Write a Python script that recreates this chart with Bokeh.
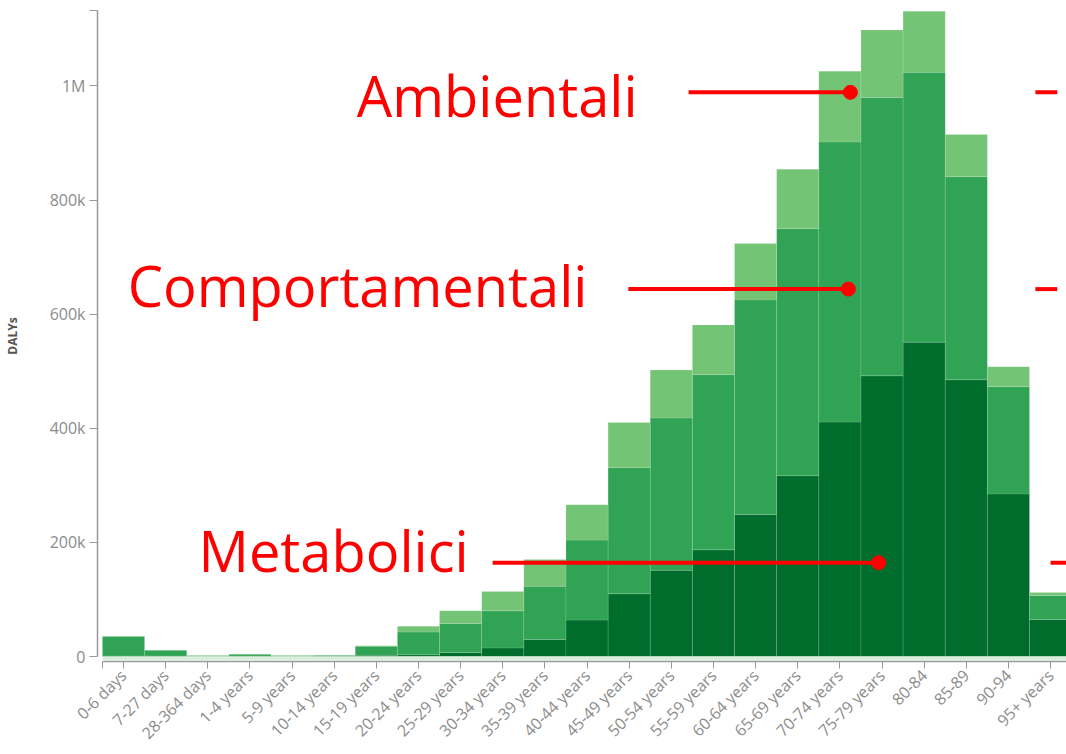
import math
from bokeh.plotting import figure
from bokeh.models import Range1d, FixedTicker, Label, BoxAnnotation, ColumnDataSource
from bokeh.embed import file_html
from bokeh.resources import INLINE

# ---------------- data (DALYs) ----------------
categories = ["0-6 days", "7-27 days", "28-364 days", "1-4 years", "5-9 years",
              "10-14 years", "15-19 years", "20-24 years", "25-29 years", "30-34 years",
              "35-39 years", "40-44 years", "45-49 years", "50-54 years", "55-59 years",
              "60-64 years", "65-69 years", "70-74 years", "75-79 years", "80-84",
              "85-89", "90-94", "95+ years"]

metabolici = [1000, 1000, 500, 1000, 500, 1000, 2000, 3000, 7000, 15000,
              30000, 64000, 110000, 151000, 187000, 249000, 317000, 411000, 492000, 551000,
              485000, 285000, 65000]

comportamentali = [34000, 10000, 1000, 3000, 1000, 1000, 16000, 40000, 51000, 65000,
                   93000, 140000, 221000, 267000, 307000, 376000, 433000, 491000, 488000, 473000,
                   356000, 188000, 42000]

ambientali = [1000, 500, 500, 500, 500, 500, 1000, 10000, 22000, 34000,
              47000, 62000, 79000, 84000, 87000, 99000, 104000, 124000, 118000, 107000,
              74000, 35000, 5000]

series_names = ["Metabolici", "Comportamentali", "Ambientali"]
series_colors = ["#006d2c", "#31a354", "#74c476"]

y_ticks = [0, 200000, 400000, 600000, 800000, 1000000]
y_tick_labels = ["0", "200k", "400k", "600k", "800k", "1M"]

# ---------------- figure ----------------
Y_TOP = 1132300
Y_BOTTOM = -8750
X_START = -0.617
X_END = 22.378

idx = list(range(len(categories)))
source = ColumnDataSource(dict(x=idx, Metabolici=metabolici,
                               Comportamentali=comportamentali, Ambientali=ambientali))

p = figure(width=1066, height=754, output_backend="svg", toolbar_location=None,
           x_range=Range1d(X_START, X_END), y_range=Range1d(Y_BOTTOM, Y_TOP),
           min_border_left=97, min_border_right=0, min_border_top=10, min_border_bottom=92)
p.outline_line_color = None
p.grid.visible = False
p.background_fill_color = "white"

# light band between bars and axis
p.add_layout(BoxAnnotation(left=-0.5, right=len(categories) - 0.5, top=0, bottom=-7000,
                           fill_color="#d7f0dc", fill_alpha=1.0, line_color=None))

p.vbar_stack(series_names, x="x", width=1.0, source=source,
             fill_color=series_colors, line_color="white", line_alpha=0.12, line_width=1)

# ---------------- axes ----------------
tick_color = "#8c8c8c"
axis_color = "#999999"

xa = p.xaxis[0]
xa.ticker = FixedTicker(ticks=[-0.5] + idx)
overrides = {i: c for i, c in enumerate(categories)}
overrides[-0.5] = ""
xa.major_label_overrides = overrides
xa.major_label_orientation = math.pi / 4
xa.bounds = (-0.5, len(categories) - 0.5)
xa.axis_line_color = axis_color
xa.axis_line_width = 1.5
xa.major_tick_line_color = axis_color
xa.major_tick_out = 7
xa.major_tick_in = 0
xa.minor_tick_line_color = None
xa.major_label_text_font = "Open Sans"
xa.major_label_text_font_size = "16px"
xa.major_label_text_color = tick_color
xa.major_label_standoff = 4

ya = p.yaxis[0]
ya.ticker = FixedTicker(ticks=y_ticks + [Y_TOP])
yover = {t: l for t, l in zip(y_ticks, y_tick_labels)}
yover[Y_TOP] = ""
ya.major_label_overrides = yover
ya.bounds = (0, Y_TOP)
ya.axis_line_color = axis_color
ya.axis_line_width = 1.5
ya.major_tick_line_color = axis_color
ya.major_tick_out = 8
ya.major_tick_in = 0
ya.minor_tick_line_color = None
ya.major_label_text_font = "Open Sans"
ya.major_label_text_font_size = "16px"
ya.major_label_text_color = tick_color
ya.major_label_standoff = 4
ya.axis_label = "DALYs"
ya.axis_label_text_font = "Open Sans"
ya.axis_label_text_font_style = "bold"
ya.axis_label_text_font_size = "12px"
ya.axis_label_text_color = "#555555"
ya.axis_label_standoff = 26

# ---------------- callout annotations ----------------
RED = "#ff0000"
callouts = [
    # text, text right x, text anchor y, line y, line x0, line x1
    ("Ambientali", 12.20, 983500, 988800, 13.41, 17.25),
    ("Comportamentali", 11.01, 651000, 644000, 11.98, 17.20),
    ("Metabolici", 8.19, 187250, 164500, 8.76, 17.92),
]
for text, tx, ty, ly, lx0, lx1 in callouts:
    p.add_layout(Label(x=tx, y=ty, text=text, text_align="right", text_baseline="alphabetic",
                       text_font="Open Sans", text_font_size="56px", text_color=RED))
p.segment(x0=[c[4] for c in callouts], y0=[c[3] for c in callouts],
          x1=[c[5] for c in callouts], y1=[c[3] for c in callouts],
          line_color=RED, line_width=4)
p.scatter(x=[c[5] for c in callouts], y=[c[3] for c in callouts],
          size=14, fill_color=RED, line_color=RED)

# stubs of further callouts, cut at the right edge
p.segment(x0=[21.64, 21.64, 22.0], y0=[988800, 644000, 164500],
          x1=[22.16, 22.16, 22.6], y1=[988800, 644000, 164500],
          line_color=RED, line_width=4)

open("out.html", "w").write(file_html(p, INLINE))
